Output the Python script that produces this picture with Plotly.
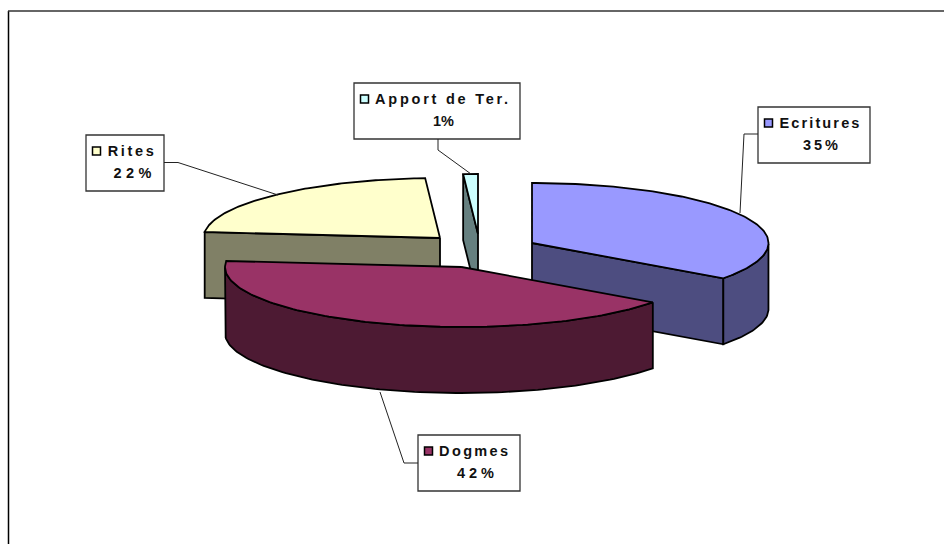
import numpy as np
import plotly.graph_objects as go

categories = ["Ecritures", "Dogmes", "Rites", "Apport de Ter."]
values = [35.0, 41.6, 22.4, 1.0]

# drawing styles per slice
top_colors = ["#9999FF", "#993366", "#FFFFCC", "#CCFFFF"]
side_colors = ["#4D4D80", "#4D1A33", "#808066", "#668080"]
apex = {"Ecritures": (532, 243), "Dogmes": (461.5, 267), "Rites": (440, 238), "Apport de Ter.": (478, 234)}
visible_cut = {"Ecritures": 1, "Rites": 0, "Apport de Ter.": 0}
RX, RY, DEPTH = 236.5, 60, 66

# label layout: box, leader, key square, text centres and widths
label_layout = {
    "Ecritures": dict(box=(758, 107, 870, 163), leader=[(758, 134), (744, 134), (740, 213)],
                      key=(768.5, 123), name=(819, 123, 80), pct=(820.5, 145, 35)),
    "Dogmes": dict(box=(418, 435, 520, 491), leader=[(418, 463), (404, 463), (380, 392)],
                   key=(428.5, 451), name=(473.5, 451, 69), pct=(475.5, 473, 37)),
    "Rites": dict(box=(86, 135, 164, 191), leader=[(164, 162.5), (178, 162.5), (278, 195)],
                  key=(96.5, 151), name=(130, 151, 46), pct=(132, 173, 38)),
    "Apport de Ter.": dict(box=(354, 83, 520, 139), leader=[(438, 139), (438, 150), (471, 174)],
                           key=(364.5, 99), name=(441.5, 99, 133), pct=(443.5, 121, 21)),
}

fig = go.Figure()
LINE = dict(color="black", width=1.8)


def poly(xs, ys, color, line=LINE):
    fig.add_trace(go.Scatter(x=list(xs) + [xs[0]], y=list(ys) + [ys[0]], mode="lines",
                             fill="toself", fillcolor=color, line=line,
                             hoverinfo="skip", showlegend=False))


# clockwise angles from 12 o'clock, derived from the values
edges = np.concatenate([[0], np.cumsum(values)]) * 3.6
slices = {c: (np.radians(edges[i]), np.radians(edges[i + 1]), top_colors[i], side_colors[i])
          for i, c in enumerate(categories)}


def draw_slice(name):
    a0, a1, top, side = slices[name]
    cx, cy = apex[name]
    t = np.linspace(a0, a1, 120)
    ex, ey = cx + RX * np.sin(t), cy - RY * np.cos(t)
    # the one cut face that can be seen
    if name in visible_cut:
        a = (a0, a1)[visible_cut[name]]
        px, py = cx + RX * np.sin(a), cy - RY * np.cos(a)
        poly([cx, px, px, cx], [cy, py, py + DEPTH, cy + DEPTH], side)
    # outer wall (front-facing part only)
    mask = np.cos(t) <= 0
    if mask.any():
        wx, wy = ex[mask], ey[mask]
        poly(list(wx) + list(wx[::-1]), list(wy) + list(wy[::-1] + DEPTH), side)
    # top face
    poly([cx] + list(ex), [cy] + list(ey), top)


for name in ["Rites", "Apport de Ter.", "Ecritures", "Dogmes"]:
    draw_slice(name)

# frame (left and top edges only are visible)
shapes = [
    dict(type="line", xref="x", yref="y", x0=8.5, y0=11, x1=8.5, y1=544, line=dict(color="black", width=1.5)),
    dict(type="line", xref="x", yref="y", x0=8, y0=11, x1=944, y1=11, line=dict(color="#333333", width=1.5)),
]

annotations = []
texts = {}
for i, c in enumerate(categories):
    L = label_layout[c]
    x0, y0, x1, y1 = L["box"]
    shapes.append(dict(type="rect", xref="x", yref="y", x0=x0, y0=y0, x1=x1, y1=y1,
                       fillcolor="white", line=dict(color="#333333", width=1.3), layer="below"))
    lx, ly = zip(*L["leader"])
    fig.add_trace(go.Scatter(x=lx, y=ly, mode="lines", line=dict(color="#222222", width=1),
                             hoverinfo="skip", showlegend=False))
    for text, (tx, ty, w) in ((c, L["name"]), (f"{round(values[i])}%", L["pct"])):
        annotations.append(dict(x=tx, y=ty, xref="x", yref="y", text=text, showarrow=False,
                                xanchor="center", yanchor="middle",
                                font=dict(family="Liberation Sans", size=14.5, color="#111111", weight="bold")))
        texts[text] = w

fig.update_layout(
    width=944, height=544, margin=dict(l=0, r=0, t=0, b=0, pad=0),
    paper_bgcolor="white", plot_bgcolor="white", showlegend=False,
    xaxis=dict(range=[0, 944], visible=False, fixedrange=True),
    yaxis=dict(range=[544, 0], visible=False, fixedrange=True),
    shapes=shapes, annotations=annotations,
)

# key squares drawn above the boxes
for i, c in enumerate(categories):
    kx, ky = label_layout[c]["key"]
    fig.add_trace(go.Scatter(x=[kx], y=[ky], mode="markers", hoverinfo="skip", showlegend=False, cliponaxis=False,
                             marker=dict(symbol="square", size=8, color=top_colors[i],
                                         line=dict(color="black", width=1.5))))

widths_js = "{" + ",".join(f'"{k}":{v}' for k, v in texts.items()) + "}"
post = ("document.body.style.margin='0';document.body.style.overflow='hidden';"
        "var w=" + widths_js + ";document.querySelectorAll('.annotation-text').forEach(function(t){"
        "var k=t.textContent;if(w[k]){t.setAttribute('textLength',w[k]);t.setAttribute('lengthAdjust','spacing');}});")

fig.write_html("out.html", post_script=post, config={"displayModeBar": False})
